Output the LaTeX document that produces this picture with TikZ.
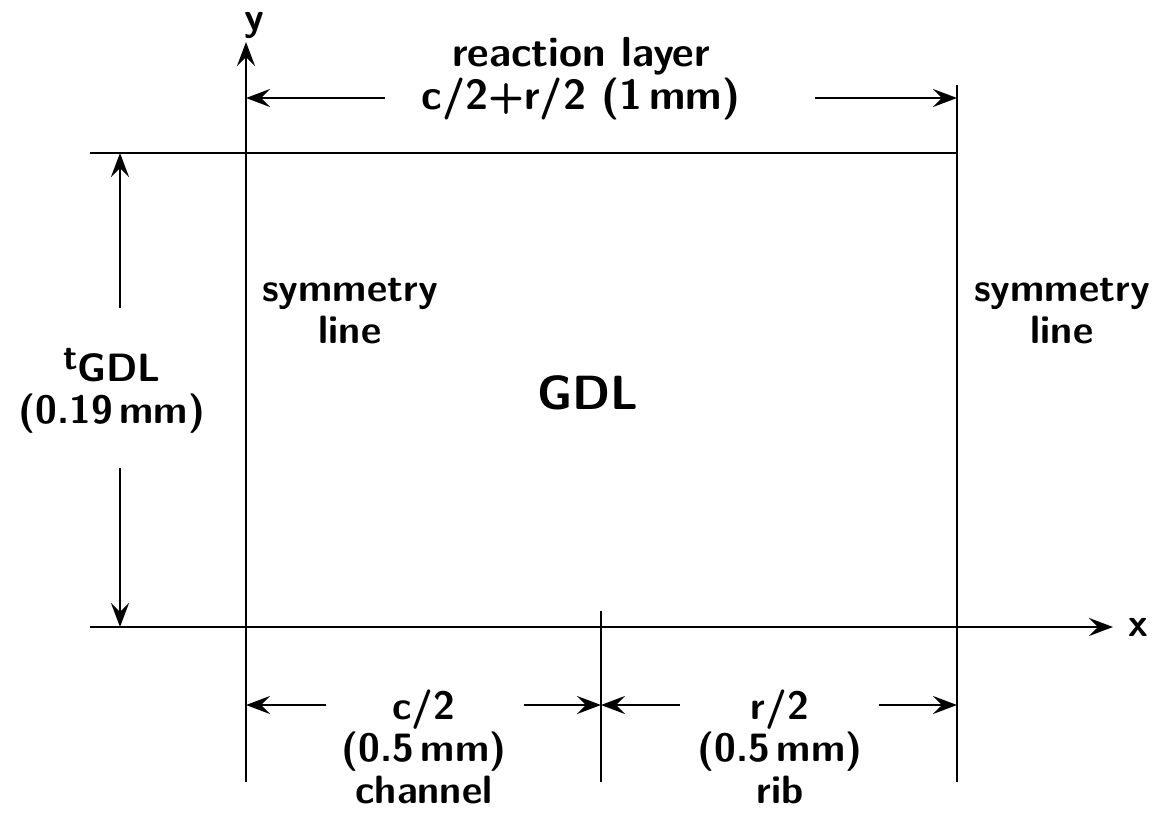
\documentclass[tikz,border=0pt]{standalone}
\usepackage{fontspec}
\usetikzlibrary{arrows.meta}
\begin{document}
\begin{tikzpicture}[x=1pt,y=-1pt,
  ln/.style={line width=2.6pt},
  arr/.style={line width=2.6pt,-{Stealth[length=24pt,width=18pt,inset=9pt]}},
  lbl/.style={font=\fontsize{39.5}{42}\selectfont\sffamily\bfseries,align=center,inner sep=0pt}]
\useasboundingbox (0,0) rectangle (1162,817);
% key points
\coordinate (ybot) at (246,782);
\coordinate (ytop) at (246,42);
\coordinate (tl) at (90,153);
\coordinate (tr) at (957,153);
\coordinate (rtop) at (957,85);
\coordinate (rbot) at (957,782);
\coordinate (xl) at (90,627);
\coordinate (xr) at (1113,627);
\coordinate (mtop) at (601,611);
\coordinate (mbot) at (601,782);
% top dimension
\coordinate (td1) at (246,98);
\coordinate (td1s) at (385,98);
\coordinate (td2s) at (815,98);
\coordinate (td2) at (957,98);
% left dimension
\coordinate (ld1) at (120,153);
\coordinate (ld1s) at (120,308);
\coordinate (ld2s) at (120,468);
\coordinate (ld2) at (120,627);
% bottom dimensions
\coordinate (b1) at (246,705);
\coordinate (b1s) at (326,705);
\coordinate (b2s) at (524,705);
\coordinate (b2) at (601,705);
\coordinate (b3s) at (680,705);
\coordinate (b4s) at (879,705);
\coordinate (b4) at (957,705);

\draw[arr] (ybot) -- (ytop);
\draw[arr] (xl) -- (xr);
\draw[ln] (tl) -- (tr);
\draw[ln] (rtop) -- (rbot);
\draw[ln] (mtop) -- (mbot);

\draw[arr] (td1s) -- (td1);
\draw[arr] (td2s) -- (td2);
\draw[arr] (ld1s) -- (ld1);
\draw[arr] (ld2s) -- (ld2);
\draw[arr] (b1s) -- (b1);
\draw[arr] (b2s) -- (b2);
\draw[arr] (b3s) -- (b2);
\draw[arr] (b4s) -- (b4);

\node[font=\fontsize{39.5}{42}\selectfont\sffamily\bfseries,inner sep=0pt,anchor=base] (ylab) at (254,30) {y};
\node[lbl] (xlab) at (1138,627) {x};
\node[lbl,font=\fontsize{42}{43}\selectfont\sffamily\bfseries] (rl) at (581,79) {reaction layer\\c/2+r/2 (1\,mm)};
\node[lbl] (sl) at (350,311) {symmetry\\line};
\node[lbl] (sr) at (1062,311) {symmetry\\line};
\node[lbl,font=\fontsize{48}{50}\selectfont\sffamily\bfseries] (gdl) at (588,393) {GDL};
\node[lbl] (tg) at (112,391) {\raisebox{12pt}{\fontsize{36}{36}\selectfont t}GDL\\(0.19\,mm)};
\node[lbl] (cl) at (424,747) {c/2\\(0.5\,mm)\\channel};
\node[lbl] (rb) at (780,747) {r/2\\(0.5\,mm)\\rib};
\end{tikzpicture}
\end{document}
